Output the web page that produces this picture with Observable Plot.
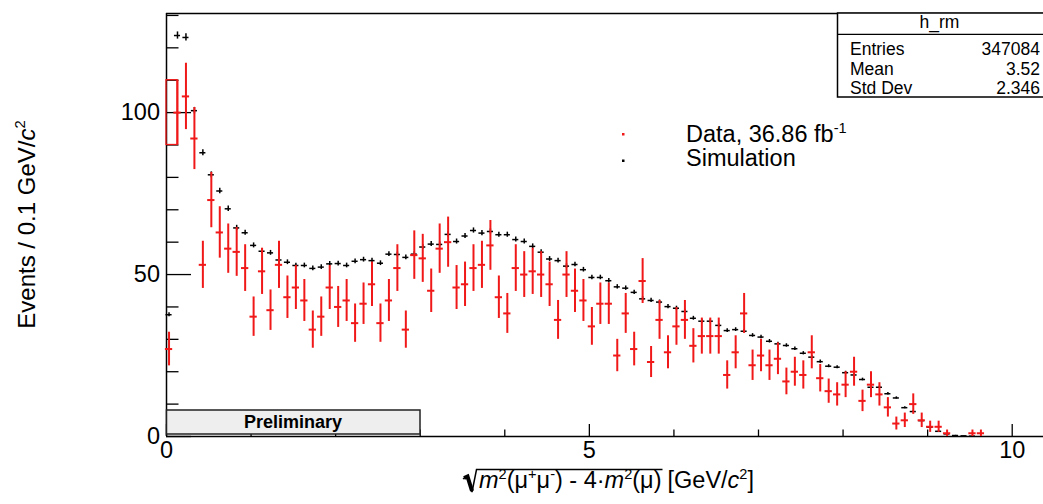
<!DOCTYPE html>
<html><head><meta charset="utf-8">
<script src="https://cdn.jsdelivr.net/npm/d3@7"></script>
<script src="https://cdn.jsdelivr.net/npm/@observablehq/plot@0.6"></script>
<style>
html,body{margin:0;padding:0;background:#fff;}
#chart svg{display:block;}
</style>
</head><body><div id="chart"></div>
<script>
// ---- data ----
const dataCounts = [27,100,105,92,53,73,63,58,57,52,
 37,51,39,53,43,46,42,33,37,46,
 40,42,35,41,47,35,42,52,33,56,
 55,45,58,60,46,47,52,53,59,43,
 38,52,50,51,50,47,36,50,45,42,
 34,41,41,25,38,27,48,23,36,26,
 34,36,28,31,31,31,19,26,38,22,
 25,22,24,17,20,19,26,18,14,13,
 16,20,11,16,13,9,4,5,10,5,
 3,3,1,null,null,1,1];
const simValues = [37.6,123.8,123.2,100.6,87.6,80.8,75.8,70.3,64.4,62.9,
 59.0,57.2,56.7,54.5,53.8,52.8,52.8,51.9,52.3,53.3,
 53.4,52.8,54.1,54.6,54.3,53.5,56.3,56.2,55.3,56.3,
 58.5,59.4,59.3,62.4,60.2,61.9,63.6,62.8,63.3,62.3,
 62.3,60.8,60.2,58.7,56.9,54.8,54.3,52.6,53.1,51.5,
 49.1,49.1,48.1,46.2,45.8,44.5,42.5,42.0,41.5,40.1,
 39.6,38.6,36.5,35.6,35.6,34.3,32.7,33.0,32.5,31.2,
 30.7,29.4,28.6,28.1,27.1,25.7,24.5,23.1,21.7,21.4,
 19.7,19.0,17.6,15.2,15.2,13.2,11.9,8.9,7.7,4.9,
 2.9,1.6,0.8,0.3,0.2,0.1];
const firstBinCenter = 0.03;
const binWidth = 0.1;
const xDomain = [0, 10.37];
const yDomain = [0, 130.6];
const xTickLabels = [0, 5, 10];
const xMinorTicks = [1, 2, 3, 4, 6, 7, 8, 9];
const yTickLabels = [0, 50, 100];
const yMinorTicks = [10, 20, 30, 40, 60, 70, 80, 90, 110, 120, 130];
const legendLabels = ["Data, 36.86 fb", "Simulation"];
const statsTitle = "h_rm";
const statsNames = ["Entries", "Mean", "Std Dev"];
const statsValues = ["347084", "3.52", "2.346"];
const boxedDataBin = 1;

// ---- build ----
const RED = "#f01818";
const FONT = "'Liberation Sans', Arial, Helvetica, sans-serif";
const W = 1043, H = 504, mL = 166, mR = 0, mT = 13, mB = 68;
const frameW = W - mL - mR, frameH = H - mT - mB;

const dataRows = dataCounts.map((n, i) => ({x: firstBinCenter + i * binWidth, n, i})).filter(d => d.n != null);
const simRows = simValues.map((v, i) => ({x: firstBinCenter + i * binWidth, v, e: 0.1 * Math.sqrt(v)}));
const boxed = dataRows.filter(d => d.i === boxedDataBin);

const chart = Plot.plot({
  width: W, height: H,
  marginLeft: mL, marginRight: mR, marginTop: mT, marginBottom: mB,
  x: {domain: xDomain},
  y: {domain: yDomain},
  style: {fontFamily: FONT, fontSize: "23.5px", background: "white", color: "black"},
  marks: [
    Plot.ruleY([yDomain[0], yDomain[1]], {stroke: "black", strokeWidth: 1.5}),
    Plot.ruleX([xDomain[0]], {stroke: "black", strokeWidth: 1.5}),
    Plot.tickY(yTickLabels, {y: d => d, insetRight: frameW - 25, stroke: "black", strokeWidth: 1.3}),
    Plot.tickY(yMinorTicks, {y: d => d, insetRight: frameW - 12.5, stroke: "black", strokeWidth: 1.3}),
    Plot.tickX(xTickLabels, {x: d => d, insetTop: frameH - 12, stroke: "black", strokeWidth: 1.3}),
    Plot.tickX(xMinorTicks, {x: d => d, insetTop: frameH - 6.5, stroke: "black", strokeWidth: 1.3}),
    Plot.axisY(yTickLabels, {tickSize: 0, tickPadding: 6.5, label: null, fontSize: 23.5}),
    Plot.axisX(xTickLabels, {tickSize: 0, tickPadding: 5, label: null, fontSize: 23.5}),
    // simulation
    Plot.ruleY(simRows, {y: "v", x1: d => d.x - 0.036, x2: d => d.x + 0.036, stroke: "black", strokeWidth: 1.5}),
    Plot.ruleX(simRows, {x: "x", y1: d => d.v - d.e, y2: d => d.v + d.e, stroke: "black", strokeWidth: 1.5}),
    // data
    Plot.rect(boxed, {x1: xDomain[0], x2: "x", y1: d => d.n - Math.sqrt(d.n), y2: d => d.n + Math.sqrt(d.n), fill: "none", stroke: RED, strokeWidth: 1.3}),
    Plot.ruleX(dataRows, {x: "x", y1: d => d.n - Math.sqrt(d.n), y2: d => d.n + Math.sqrt(d.n), stroke: RED, strokeWidth: 2}),
    Plot.ruleY(dataRows, {y: "n", x1: d => d.x - 0.043, x2: d => d.x + 0.043, stroke: RED, strokeWidth: 2})
  ]
});
document.getElementById("chart").appendChild(chart);

const svg = d3.select(chart);
const ann = svg.append("g").attr("font-family", FONT).attr("fill", "black").attr("text-anchor", "start");

function rich(sel, parts, fs) {
  let shift = 0;
  for (const p of parts) {
    const target = p.sup ? -0.4 * fs : 0;
    const ts = sel.append("tspan").text(p.t).attr("dy", target - shift);
    shift = target;
    if (p.sup) ts.attr("font-size", fs * 0.62);
    if (p.it) ts.attr("font-style", "italic");
  }
  return sel;
}

// x-axis title with radical
const FS = 23.5;
const radT = ann.append("text").attr("font-size", FS).attr("y", 488).attr("text-anchor", "start");
rich(radT, [{t: "m", it: 1}, {t: "2", sup: 1}, {t: "(μ"}, {t: "+", sup: 1}, {t: "μ"}, {t: "-", sup: 1}, {t: ") - 4·"}, {t: "m", it: 1}, {t: "2", sup: 1}, {t: "(μ)"}], FS);
const unitT = ann.append("text").attr("font-size", FS).attr("y", 488).attr("text-anchor", "start");
rich(unitT, [{t: "[GeV/"}, {t: "c", it: 1}, {t: "2", sup: 1}, {t: "]"}], FS);
const w1 = radT.node().getComputedTextLength();
const w2 = unitT.node().getComputedTextLength();
const total = 16 + w1 + 6 + w2;
const cx = mL + frameW / 2 + 4;
const sx = cx - total / 2;
radT.attr("x", sx + 16);
unitT.attr("x", sx + 16 + w1 + 6);
ann.append("path").attr("d", `M${sx},479 L${sx + 4},476 L${sx + 9},492 L${sx + 13.5},469.5 H${sx + 16 + w1 + 1}`)
  .attr("fill", "none").attr("stroke", "black").attr("stroke-width", 1.5).attr("stroke-linejoin", "miter");
ann.append("path").attr("d", `M${sx + 1},478 L${sx + 4.5},476.5 L${sx + 9},491`)
  .attr("fill", "none").attr("stroke", "black").attr("stroke-width", 4);

// y-axis title
const yT = ann.append("text").attr("font-size", 24).attr("text-anchor", "middle")
  .attr("transform", `translate(35,${mT + frameH / 2}) rotate(-90)`);
rich(yT, [{t: "Events / 0.1 GeV/"}, {t: "c", it: 1}, {t: "2", sup: 1}], 24);

// legend
const LFS = 23.5;
ann.append("rect").attr("x", 622).attr("y", 133).attr("width", 2.5).attr("height", 2.5).attr("fill", RED);
ann.append("rect").attr("x", 622).attr("y", 159.5).attr("width", 2.5).attr("height", 2.5).attr("fill", "black");
const l1 = ann.append("text").attr("font-size", LFS).attr("x", 686).attr("y", 142).attr("text-anchor", "start");
rich(l1, [{t: legendLabels[0]}, {t: "-1", sup: 1}], LFS);
ann.append("text").attr("font-size", LFS).attr("x", 686).attr("y", 166).attr("text-anchor", "start").text(legendLabels[1]);

// stats box
const sb = ann.append("g");
sb.append("rect").attr("x", 837.5).attr("y", 13).attr("width", 230).attr("height", 84).attr("fill", "white").attr("stroke", "black").attr("stroke-width", 1.5);
sb.append("line").attr("x1", 837.5).attr("x2", 1060).attr("y1", 34.3).attr("y2", 34.3).attr("stroke", "black").attr("stroke-width", 1.2);
sb.append("text").attr("font-size", 17.5).attr("x", 939.5).attr("y", 27.5).attr("text-anchor", "middle").text(statsTitle);
const rowsY = [55, 75, 94];
statsNames.forEach((nm, i) => {
  sb.append("text").attr("font-size", 17.5).attr("x", 850).attr("y", rowsY[i]).attr("text-anchor", "start").text(nm);
  sb.append("text").attr("font-size", 17.5).attr("x", 1040).attr("y", rowsY[i]).attr("text-anchor", "end").text(statsValues[i]);
});

// Preliminary box
const pb = ann.append("g");
pb.append("rect").attr("x", 166.5).attr("y", 410).attr("width", 253.5).attr("height", 24).attr("fill", "#eeeeee").attr("stroke", "#222").attr("stroke-width", 1.5);
pb.append("text").attr("font-size", 18).attr("font-weight", "bold").attr("x", 293).attr("y", 427.5).attr("text-anchor", "middle").text("Preliminary");
</script>
</body></html>
